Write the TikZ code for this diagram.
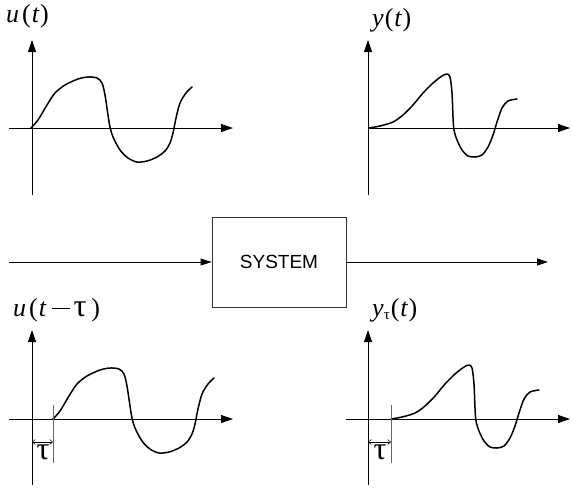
\documentclass[tikz,border=0pt]{standalone}
\usepackage{fontspec}
\setmainfont{Liberation Serif}
\newfontfamily\sysfont{Liberation Sans}
\usetikzlibrary{arrows.meta}
\newcommand\bigtau{{\fontsize{32}{32}\selectfont τ}}
\newcommand\ucurve{(31,128) (38,120) (47,105) (55,93) (65,85) (78,79) (88,77) (97,78) (102,83) (105,95) (108,115) (110,127) (113,137) (120,150) (128,158) (137,162) (147,161) (157,157) (165,151) (170,143) (173,133) (176,118) (180,103) (186,93) (192,87)}
\newcommand\ycurve{(369,128) (380,126) (393,122) (403,115) (413,105) (423,93) (433,83) (442,76) (447,74) (450,77) (452,93) (453,117) (454,130) (457,140) (462,150) (468,156) (475,157) (482,155) (488,147) (493,135) (497,122) (502,108) (508,101) (517,99)}
\begin{document}
\begin{tikzpicture}[x=1pt,y=-1pt,
  axis/.style={line width=0.8pt,-{Triangle[length=12pt,width=8pt]}},
  sig/.style={line width=1.5pt,line join=round,line cap=round},
  flow/.style={line width=0.8pt,-{Triangle[length=11pt,width=7pt]}},
  lab/.style={anchor=base west,inner sep=0pt,font=\fontsize{26}{26}\selectfont},
  marker/.style={line width=0.8pt,black!60},
  span/.style={line width=0.5pt,{Straight Barb[length=3pt,width=5pt]}-{Straight Barb[length=3pt,width=5pt]}},
  taulab/.style={inner sep=0pt},
  sysbox/.style={draw=black!80,line width=0.8pt,minimum width=134pt,minimum height=90pt,inner sep=0pt,font=\sysfont\fontsize{19}{19}\selectfont}
]
\useasboundingbox (0,0) rectangle (572,488);

% ---------- top left: u(t)
\node[lab] (lu) at (6,22) {\textit{u}\hspace{3pt}(\hspace{1pt}\textit{t}\hspace{0.5pt})};
\coordinate (a1b) at (32,195); \coordinate (a1t) at (32,40);
\coordinate (a1l) at (9,128);  \coordinate (a1r) at (233,128);
\draw[axis] (a1b) -- (a1t);
\draw[axis] (a1l) -- (a1r);
\draw[sig] plot[smooth,tension=0.5] coordinates {\ucurve};

% ---------- top right: y(t)
\node[lab] (ly) at (372,26) {\textit{y}\hspace{1pt}(\hspace{1pt}\textit{t}\hspace{0.5pt})};
\coordinate (a2b) at (368,195); \coordinate (a2t) at (368,40);
\coordinate (a2l) at (368,128); \coordinate (a2r) at (570,128);
\draw[axis] (a2b) -- (a2t);
\draw[axis] (a2l) -- (a2r);
\draw[sig] plot[smooth,tension=0.5] coordinates {\ycurve};

% ---------- system
\node[sysbox] (sys) at (279,262) {SYSTEM};
\coordinate (in) at (9,262);
\coordinate (out) at (548,262);
\draw[flow] (in) -- (sys.west);
\draw[flow] (sys.east) -- (out);

% ---------- bottom left: u(t - tau)
\node[lab] (lud) at (13,316) {\textit{u}\hspace{3pt}(\hspace{1pt}\textit{t}\hspace{5pt}\rule[7.5pt]{18pt}{0.9pt}\hspace{4pt}\bigtau\hspace{5pt})};
\coordinate (a3b) at (32,485); \coordinate (a3t) at (32,330);
\coordinate (a3l) at (9,419);  \coordinate (a3r) at (233,419);
\draw[axis] (a3b) -- (a3t);
\draw[axis] (a3l) -- (a3r);
\begin{scope}[shift={(22,291)}]
\draw[sig] plot[smooth,tension=0.5] coordinates {\ucurve};
\end{scope}
\coordinate (m3t) at (53,405); \coordinate (m3b) at (53,463);
\draw[marker] (m3t) -- (m3b);
\coordinate (s3l) at (32,442); \coordinate (s3r) at (53,442);
\draw[span] (s3l) -- (s3r);
\node[taulab] (t3) at (43,452) {\bigtau};

% ---------- bottom right: y_tau(t)
\node[lab] (lyd) at (372,316) {\textit{y}\raisebox{-3pt}{\fontsize{15}{15}\selectfont τ}\hspace{1pt}(\hspace{1pt}\textit{t}\hspace{0.5pt})};
\coordinate (a4b) at (368,485); \coordinate (a4t) at (368,330);
\coordinate (a4l) at (346,419); \coordinate (a4r) at (570,419);
\draw[axis] (a4b) -- (a4t);
\draw[axis] (a4l) -- (a4r);
\begin{scope}[shift={(22,291)}]
\draw[sig] plot[smooth,tension=0.5] coordinates {\ycurve};
\end{scope}
\coordinate (m4t) at (391,405); \coordinate (m4b) at (391,463);
\draw[marker] (m4t) -- (m4b);
\coordinate (s4l) at (368,442); \coordinate (s4r) at (391,442);
\draw[span] (s4l) -- (s4r);
\node[taulab] (t4) at (380,452) {\bigtau};
\end{tikzpicture}
\end{document}
